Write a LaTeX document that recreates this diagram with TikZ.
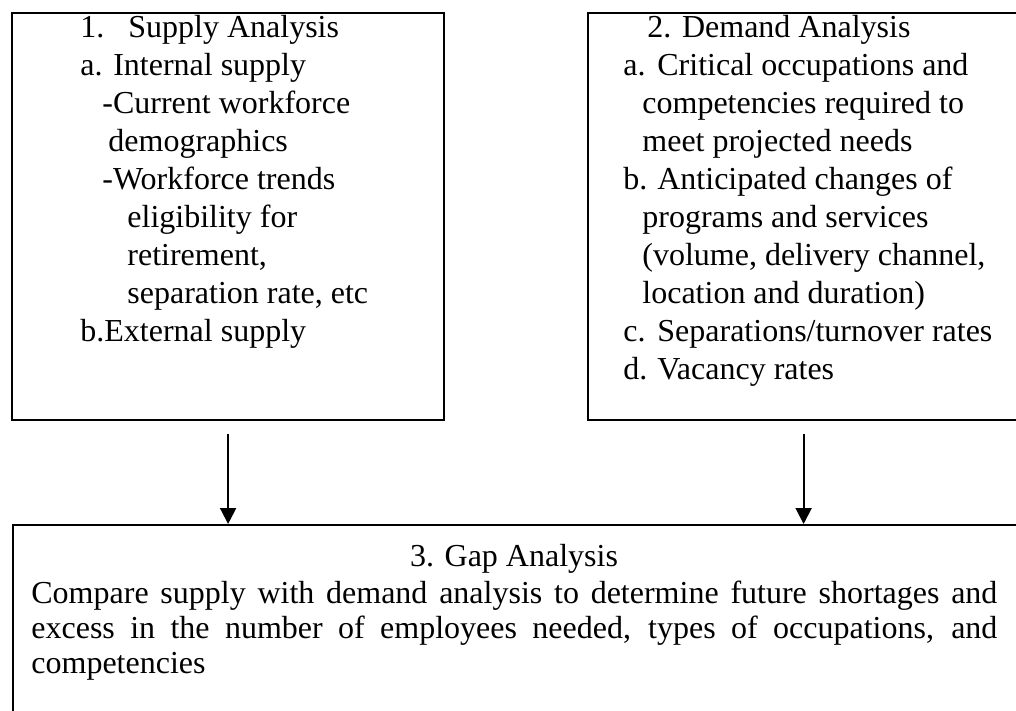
\documentclass[tikz,border=0pt]{standalone}
\usepackage{fontspec}
\setmainfont{Liberation Serif}
\usetikzlibrary{arrows.meta}
\newcommand{\lbl}[1]{\makebox[17pt][l]{#1}}
\begin{document}
\begin{tikzpicture}[x=0.5pt,y=-0.5pt,
  panel/.style={draw=black, line width=1.1pt, inner sep=0pt, anchor=north west},
  body/.style={inner sep=0pt, anchor=base west, font=\fontsize{16}{19}\selectfont},
  feed/.style={draw=black, line width=1pt, -{Triangle[length=8pt,width=8pt]}}]
\clip (0,0) rectangle (1016,711);

% the three panels
\node[panel, minimum width=216pt, minimum height=203.5pt] (supply) at (11,12) {};
\node[panel, minimum width=215.5pt, minimum height=203.5pt] (demand) at (587,12) {};
\node[panel, minimum width=509.25pt, minimum height=103pt] (gap) at (11.5,524) {};

% supply panel text
\node[body] (supplytext) at (80,38) {\begin{minipage}[t]{180pt}\raggedright
1.\hspace{12pt}Supply Analysis\\
a. Internal supply\\
\hspace*{11pt}-Current workforce\\
\hspace*{14pt}demographics\\
\hspace*{11pt}-Workforce trends\\
\hspace*{23.5pt}eligibility for\\
\hspace*{23.5pt}retirement,\\
\hspace*{23.5pt}separation rate, etc\\
b.External supply
\end{minipage}};

% demand panel text
\node[body] (demandtext) at (623,38) {\begin{minipage}[t]{195pt}\raggedright
\hspace*{12pt}2. Demand Analysis\\
\lbl{a.}Critical occupations and\\
\hspace*{9.5pt}competencies required to\\
\hspace*{9.5pt}meet projected needs\\
\lbl{b.}Anticipated changes of\\
\hspace*{9.5pt}programs and services\\
\hspace*{9.5pt}(volume, delivery channel,\\
\hspace*{9.5pt}location and duration)\\
\lbl{c.}Separations/turnover rates\\
\lbl{d.}Vacancy rates
\end{minipage}};

% gap panel text
\node[body, anchor=base] (gaptitle) at (514,566) {3. Gap Analysis};
\node[body] (gaptext) at (31,603) {\begin{minipage}[t]{483pt}
\fontsize{16}{17.5}\selectfont\setlength{\parindent}{0pt}%
Compare supply with demand analysis to determine future shortages and\linebreak
excess in the number of employees needed, types of occupations, and\linebreak
competencies
\end{minipage}};

% connectors
\draw[feed] ([yshift=-6.5pt]supply.south) -- (supply.south |- gap.north);
\draw[feed] ([yshift=-6.5pt]demand.south) -- (demand.south |- gap.north);
\end{tikzpicture}
\end{document}
